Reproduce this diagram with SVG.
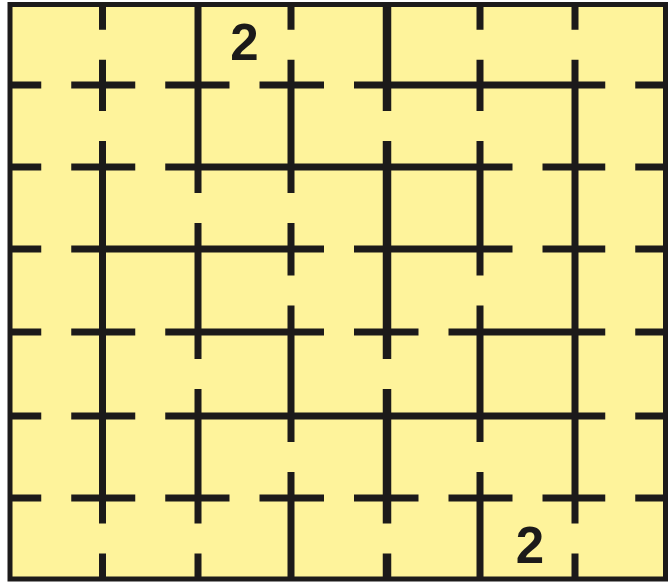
<svg xmlns="http://www.w3.org/2000/svg" width="670" height="583" viewBox="0 0 670 583">
  <style>
    .bg { fill: #FEF39B; }
    .ln { fill: none; stroke: #1c1a1a; stroke-width: 7; stroke-linecap: butt; }
    .thick { stroke-width: 8.5; }
    .border { fill: none; stroke: #1c1a1a; stroke-width: 5; }
    .num { font-family: "Liberation Sans", Arial, sans-serif; font-weight: bold; font-size: 51px; fill: #1c1a1a; text-anchor: middle; }
  </style>
  <rect x="0" y="0" width="670" height="583" fill="#ffffff"/>
  <rect class="bg" x="10" y="4.5" width="655.5" height="574.5"/>
  <g id="horizontal-lines">
    <path class="ln" d="M10 85H41.25M71.25 85H135.25M165.25 85H229.5M259.5 85H324M354 85H605.25M635.25 85H665.5"/>
    <path class="ln" d="M10 167H41.25M71.25 167H135.25M165.25 167H512.5M542.5 167H605.25M635.25 167H665.5"/>
    <path class="ln" d="M10 249H41.25M71.25 249H324M354 249H512.5M542.5 249H605.25M635.25 249H665.5"/>
    <path class="ln" d="M10 332H41.25M71.25 332H135.25M165.25 332H324M354 332H418.5M448.5 332H605.25M635.25 332H665.5"/>
    <path class="ln" d="M10 416H41.25M71.25 416H135.25M165.25 416H605.25M635.25 416H665.5"/>
    <path class="ln" d="M10 498H41.25M71.25 498H135.25M165.25 498H229.5M259.5 498H324M354 498H418.5M448.5 498H512.5M542.5 498H605.25M635.25 498H665.5"/>
  </g>
  <g id="vertical-lines">
    <path class="ln" d="M102.5 4.5V29.75M102.5 59.75V111M102.5 141V523.5M102.5 553.5V579"/>
    <path class="ln" d="M198 4.5V193M198 223V359M198 389V523.5M198 553.5V579"/>
    <path class="ln" d="M291 4.5V29.75M291 59.75V193M291 223V275.5M291 305.5V442M291 472V579"/>
    <path class="ln thick" d="M387 4.5V111M387 141V359M387 389V523.5M387 553.5V579"/>
    <path class="ln" d="M480 4.5V29.75M480 59.75V111M480 141V275.5M480 305.5V442M480 472V579"/>
    <path class="ln" d="M575 4.5V29.75M575 59.75V523.5M575 553.5V579"/>
  </g>
  <rect id="frame" class="border" x="10" y="4.5" width="655.5" height="574.5"/>
  <g id="clue-top">
    <text class="num" x="244.5" y="60">2</text>
  </g>
  <g id="clue-bottom">
    <text class="num" x="530" y="563">2</text>
  </g>
</svg>
